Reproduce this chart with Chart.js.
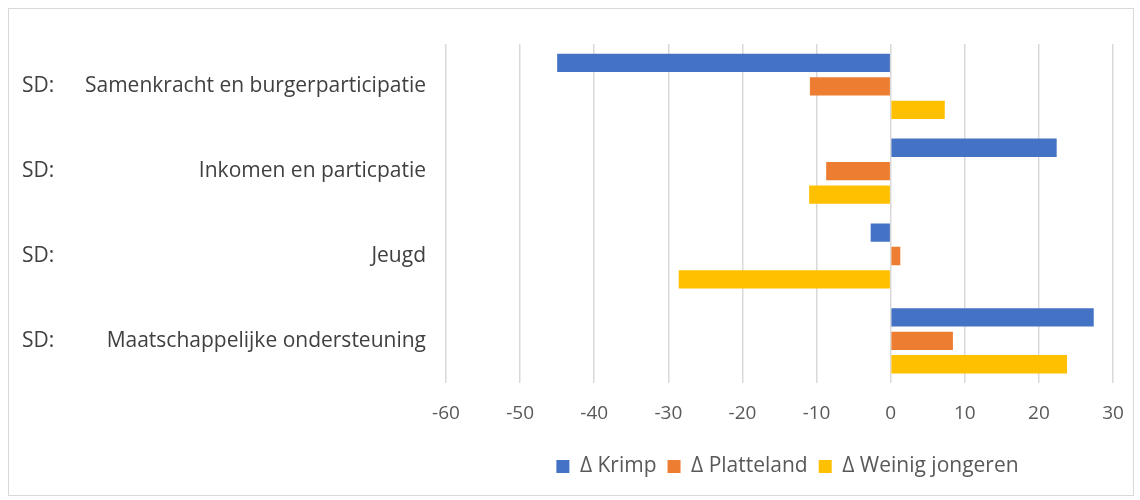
<!DOCTYPE html>
<html lang="nl">
<head>
<meta charset="UTF-8">
<title>Delta per beleidsveld</title>
<script src="https://cdn.jsdelivr.net/npm/chart.js@4.4.1/dist/chart.umd.min.js"></script>
<style>
    html, body { margin: 0; padding: 0; background: #fff; }
    #wrap { position: absolute; left: 8px; top: 8px; width: 1126px; height: 488px; border: 1px solid #d9d9d9; box-sizing: border-box; }
    canvas { position: absolute; left: 0; top: 0; }
</style>
</head>
<body>
<div id="wrap"><canvas id="chart" width="1124" height="486"></canvas></div>
<script>
    // data
    var categories = ['Samenkracht en burgerparticipatie', 'Inkomen en particpatie', 'Jeugd', 'Maatschappelijke ondersteuning'];
    var prefix = 'SD:';
    var seriesNames = ['\u0394 Krimp', '\u0394 Platteland', '\u0394 Weinig jongeren'];
    var krimp = [-45, 22.4, -2.7, 27.4];
    var platteland = [-10.9, -8.7, 1.3, 8.4];
    var weinigJongeren = [7.3, -11.0, -28.6, 23.8];
    var xTicks = [-60, -50, -40, -30, -20, -10, 0, 10, 20, 30];
    var colors = ['#4472C4', '#ED7D31', '#FFC000'];

    var FONT = '"Open Sans", "Noto Sans", sans-serif';

    // "SD:" sits at the far left, the rest of the label is right-aligned
    var prefixPlugin = {
        id: 'prefix',
        beforeDraw: function (chart) {
            // center the legend under the plot area, like Excel does
            var lg = chart.legend, area = chart.chartArea;
            lg.left = area.left + 8;
            lg.right = area.right + 8;
            lg.width = area.right - area.left;
            lg.adjustHitBoxes();
        },
        afterDraw: function (chart) {
            var ctx = chart.ctx;
            var y = chart.scales.y;
            ctx.save();
            ctx.font = '21px ' + FONT;
            ctx.fillStyle = '#404040';
            ctx.textAlign = 'left';
            ctx.textBaseline = 'middle';
            categories.forEach(function (c, i) {
                ctx.fillText(prefix, 13, y.getPixelForValue(i));
            });
            ctx.restore();
        }
    };

    var ctx = document.getElementById('chart').getContext('2d');
    new Chart(ctx, {
        type: 'bar',
        data: {
            labels: categories,
            datasets: [
                { label: seriesNames[0], data: krimp, backgroundColor: colors[0] },
                { label: seriesNames[1], data: platteland, backgroundColor: colors[1] },
                { label: seriesNames[2], data: weinigJongeren, backgroundColor: colors[2] }
            ]
        },
        options: {
            indexAxis: 'y',
            responsive: false,
            animation: false,
            categoryPercentage: 0.83,
            barPercentage: 0.78,
            layout: { padding: { left: 0, right: 20, top: 35, bottom: 8 } },
            plugins: {
                tooltip: { enabled: false },
                legend: {
                    position: 'bottom',
                    labels: {
                        font: { family: FONT, size: 21 },
                        color: '#595959',
                        boxWidth: 13,
                        boxHeight: 13,
                        padding: 11
                    }
                }
            },
            scales: {
                x: {
                    min: -60,
                    max: 30,
                    afterBuildTicks: function (scale) {
                        scale.ticks = xTicks.map(function (v) { return { value: v }; });
                    },
                    afterFit: function (scale) {
                        scale.paddingLeft = 0;
                        scale.paddingRight = 0;
                        scale.height += 1;
                    },
                    grid: { color: '#d9d9d9', lineWidth: 1.5, drawTicks: false },
                    border: { display: false },
                    ticks: {
                        font: { family: FONT, size: 19 },
                        color: '#595959',
                        padding: 19,
                        maxRotation: 0
                    }
                },
                y: {
                    grid: { display: false, drawTicks: false },
                    border: { display: false },
                    afterFit: function (scale) { scale.width = 437; },
                    ticks: {
                        font: { family: FONT, size: 21 },
                        color: '#404040',
                        padding: 20
                    }
                }
            }
        },
        plugins: [prefixPlugin]
    });
</script>
</body>
</html>
